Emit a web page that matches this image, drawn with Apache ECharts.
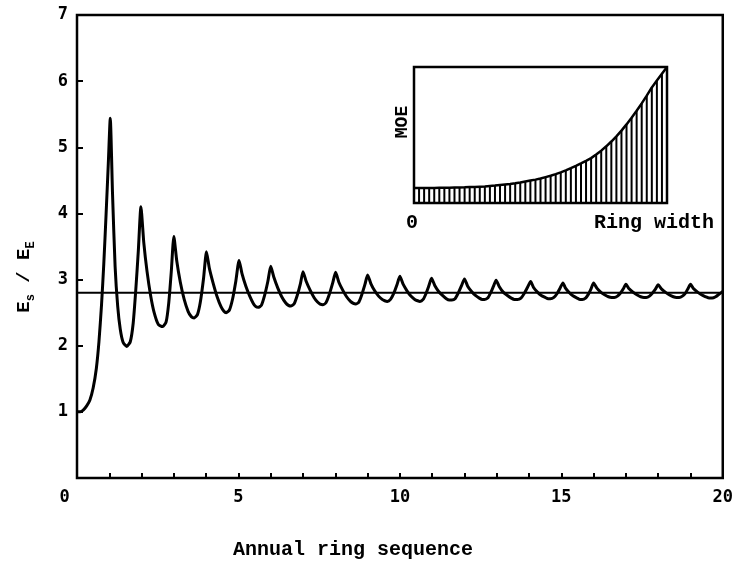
<!DOCTYPE html>
<html>
<head>
<meta charset="utf-8">
<script src="https://cdn.jsdelivr.net/npm/echarts@6/dist/echarts.min.js"></script>
<style>
html,body{margin:0;padding:0;background:#fff;}
#chart{width:736px;height:561px;}
</style>
</head>
<body>
<div id="chart"></div>
<script>
// ---- data ----
// Es/EE ratio along the annual ring sequence: [ring position, ratio]
const ratioCurve = [
  [0.00,1.00],[0.10,1.00],[0.20,1.03],[0.30,1.09],[0.40,1.18],[0.50,1.36],[0.60,1.66],[0.68,2.06],[0.76,2.62],[0.83,3.24],[0.90,3.98],[0.97,4.76],
  [1.03,5.44],[1.10,4.30],[1.18,3.20],[1.26,2.60],[1.34,2.25],[1.43,2.05],[1.54,1.99],[1.65,2.06],[1.74,2.34],[1.82,2.84],[1.90,3.44],
  [1.98,4.10],[2.07,3.55],[2.17,3.12],[2.28,2.76],[2.39,2.50],[2.52,2.32],[2.65,2.29],[2.76,2.36],[2.84,2.64],[2.92,3.12],
  [3.00,3.65],[3.09,3.28],[3.20,2.96],[3.32,2.70],[3.44,2.52],[3.54,2.44],[3.63,2.42],[3.73,2.47],[3.82,2.66],[3.92,3.02],
  [4.01,3.42],[4.10,3.17],[4.22,2.94],[4.34,2.74],[4.46,2.59],[4.55,2.52],[4.62,2.50],[4.72,2.54],[4.82,2.71],[4.92,2.98],
  [5.02,3.29],[5.11,3.09],[5.23,2.90],[5.35,2.75],[5.46,2.64],[5.54,2.59],[5.61,2.58],[5.71,2.61],[5.81,2.76],[5.91,2.97],
  [6.00,3.20],[6.10,3.03],[6.22,2.87],[6.34,2.74],[6.46,2.65],[6.55,2.61],[6.62,2.60],[6.72,2.63],[6.82,2.76],[6.92,2.94],
  [7.00,3.12],[7.10,2.97],[7.22,2.84],[7.34,2.73],[7.45,2.66],[7.53,2.63],[7.61,2.62],[7.71,2.65],[7.81,2.77],[7.92,2.95],
  [8.01,3.11],[8.11,2.96],[8.23,2.84],[8.35,2.74],[8.47,2.67],[8.56,2.64],[8.63,2.63],[8.73,2.66],[8.82,2.77],[8.92,2.93],
  [9.00,3.07],[9.10,2.94],[9.22,2.83],[9.34,2.75],[9.45,2.70],[9.53,2.68],[9.61,2.67],[9.71,2.70],[9.81,2.79],[9.91,2.92],
  [10.00,3.05],[10.10,2.93],[10.22,2.83],[10.34,2.75],[10.46,2.70],[10.55,2.68],[10.62,2.67],[10.72,2.70],[10.81,2.79],[10.90,2.91],
  [10.98,3.02],[11.08,2.91],[11.20,2.82],[11.32,2.76],[11.44,2.71],[11.53,2.69],[11.61,2.69],[11.71,2.71],[11.81,2.80],[11.91,2.91],
  [12.00,3.01],[12.10,2.90],[12.22,2.82],[12.34,2.76],[12.46,2.72],[12.55,2.70],[12.62,2.70],[12.72,2.72],[12.81,2.80],[12.90,2.90],
  [12.98,2.99],[13.08,2.89],[13.20,2.81],[13.33,2.76],[13.45,2.72],[13.55,2.70],[13.64,2.70],[13.75,2.72],[13.85,2.79],[13.95,2.88],
  [14.05,2.97],[14.14,2.88],[14.26,2.81],[14.38,2.76],[14.50,2.73],[14.59,2.71],[14.66,2.71],[14.77,2.73],[14.87,2.79],[14.96,2.87],
  [15.05,2.95],[15.13,2.87],[15.25,2.80],[15.37,2.75],[15.49,2.72],[15.58,2.70],[15.65,2.70],[15.75,2.72],[15.84,2.78],[15.92,2.86],
  [16.00,2.95],[16.10,2.87],[16.22,2.81],[16.34,2.77],[16.46,2.74],[16.56,2.73],[16.64,2.73],[16.74,2.75],[16.84,2.80],[16.92,2.86],
  [17.00,2.93],[17.10,2.86],[17.22,2.81],[17.34,2.77],[17.46,2.74],[17.56,2.73],[17.63,2.73],[17.73,2.75],[17.83,2.80],[17.92,2.86],
  [18.00,2.92],[18.10,2.86],[18.22,2.81],[18.34,2.77],[18.47,2.74],[18.57,2.73],[18.65,2.73],[18.75,2.75],[18.85,2.80],[18.93,2.87],
  [19.00,2.93],[19.10,2.86],[19.22,2.81],[19.34,2.77],[19.47,2.74],[19.58,2.72],[19.67,2.72],[19.78,2.74],[19.89,2.78],[20.00,2.82]
];
// horizontal reference level
const meanRatio = 2.8;
const xRange = [0, 20];
const xTickLabels = [0, 5, 10, 15, 20];
const yTickLabels = [1, 2, 3, 4, 5, 6, 7];
// inset: relative MOE across ring width (51 equally spaced positions)
const insetMoe = [
  0.110,0.110,0.110,0.111,0.111,0.112,0.112,0.113,0.114,0.114,
  0.115,0.117,0.118,0.120,0.122,0.125,0.128,0.132,0.136,0.140,
  0.145,0.151,0.158,0.165,0.172,0.180,0.190,0.200,0.212,0.225,
  0.240,0.256,0.273,0.291,0.310,0.330,0.356,0.385,0.417,0.452,
  0.490,0.532,0.578,0.627,0.678,0.732,0.790,0.850,0.900,0.950,1.000
];

// ---- chart ----
const chart = echarts.init(document.getElementById('chart'), null, {renderer: 'canvas'});
const tickFont = {fontFamily: 'DejaVu Sans Mono', fontSize: 17, fontWeight: 'bold', color: '#000'};
const monoBold = '"Liberation Mono", "DejaVu Sans Mono", monospace';
const insetPts = insetMoe.map((v, i) => [i, v]);

const option = {
  backgroundColor: '#fff',
  animation: false,
  grid: [
    {left: 77, right: 7, top: 15, bottom: 83, show: true, borderColor: '#000', borderWidth: 2.5, backgroundColor: 'transparent'},
    {left: 414, right: 69, top: 67, bottom: 358, show: true, borderColor: '#000', borderWidth: 2.5, backgroundColor: '#fff', z: 5}
  ],
  xAxis: [
    {
      type: 'value', gridIndex: 0, min: xRange[0], max: xRange[1], interval: 1,
      axisLine: {show: false},
      axisTick: {show: true, inside: true, length: 5, lineStyle: {color: '#000', width: 2}},
      splitLine: {show: false},
      axisLabel: {
        margin: 11, ...tickFont,
        formatter: v => xTickLabels.indexOf(v) >= 0 ? (v === 0 ? '{z|0}' : String(v)) : '',
        rich: {z: {fontFamily: 'DejaVu Sans Mono', fontSize: 17, fontWeight: 'bold', color: '#000', padding: [0, 25, 0, 0]}}
      }
    },
    {
      type: 'value', gridIndex: 1, min: 0, max: 50,
      axisLine: {show: false}, axisTick: {show: false}, axisLabel: {show: false}, splitLine: {show: false}
    }
  ],
  yAxis: [
    {
      type: 'value', gridIndex: 0, min: 0, max: 7, interval: 1,
      axisLine: {show: false},
      axisTick: {show: true, inside: true, length: 6, lineStyle: {color: '#000', width: 2}},
      splitLine: {show: false},
      axisLabel: {margin: 9, ...tickFont, formatter: v => yTickLabels.indexOf(v) >= 0 ? String(v) : ''}
    },
    {
      type: 'value', gridIndex: 1, min: 0, max: 1,
      axisLine: {show: false}, axisTick: {show: false}, axisLabel: {show: false}, splitLine: {show: false}
    }
  ],
  series: [
    {
      type: 'line', xAxisIndex: 0, yAxisIndex: 0, symbol: 'none',
      data: xRange.map(x => [x, meanRatio]),
      lineStyle: {color: '#000', width: 2}, z: 2
    },
    {
      type: 'line', xAxisIndex: 0, yAxisIndex: 0, symbol: 'none',
      data: ratioCurve, smooth: 0.2,
      lineStyle: {color: '#000', width: 3, join: 'round'}, z: 3
    },
    {
      type: 'bar', xAxisIndex: 1, yAxisIndex: 1, data: insetPts,
      barWidth: 2, itemStyle: {color: '#000'}, z: 6
    },
    {
      type: 'line', xAxisIndex: 1, yAxisIndex: 1, symbol: 'none', data: insetPts,
      lineStyle: {color: '#000', width: 2.5}, z: 7
    }
  ],
  graphic: [
    {
      type: 'text', x: 353, y: 550, z: 10,
      style: {text: 'Annual ring sequence', font: 'bold 20px ' + monoBold, fill: '#000', align: 'center', verticalAlign: 'middle'}
    },
    {
      type: 'text', x: 654, y: 223, z: 10,
      style: {text: 'Ring width', font: 'bold 20px ' + monoBold, fill: '#000', align: 'center', verticalAlign: 'middle'}
    },
    {
      type: 'text', x: 412, y: 223, z: 10,
      style: {text: '0', font: 'bold 20px ' + monoBold, fill: '#000', align: 'center', verticalAlign: 'middle'}
    },
    {
      type: 'text', x: 402, y: 122, rotation: Math.PI / 2, z: 10,
      style: {text: 'MOE', font: 'bold 18px ' + monoBold, fill: '#000', align: 'center', verticalAlign: 'middle'}
    },
    {
      type: 'text', x: 24, y: 277, rotation: Math.PI / 2, z: 10,
      style: {
        text: '{e|E}{s|s}{e| / E}{s|E}',
        align: 'center', verticalAlign: 'middle',
        rich: {
          e: {font: 'bold 19px ' + monoBold, fill: '#000', lineHeight: 26, verticalAlign: 'middle'},
          s: {font: 'bold 12px ' + monoBold, fill: '#000', lineHeight: 12, verticalAlign: 'bottom'}
        }
      }
    }
  ]
};
chart.setOption(option);
</script>
</body>
</html>
